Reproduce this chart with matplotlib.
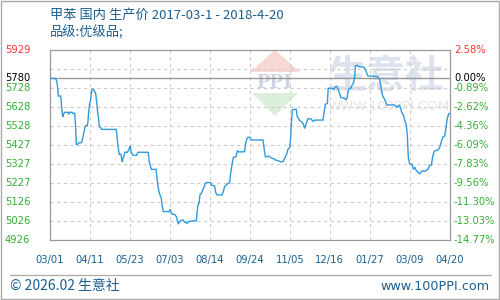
import matplotlib
matplotlib.use("Agg")
import matplotlib.pyplot as plt
from matplotlib.patches import Polygon, Rectangle
from matplotlib.lines import Line2D
import matplotlib.transforms as mtransforms
import datetime as dt

# ---------------- data ----------------
start_date = dt.date(2017, 3, 1)
tick_days = [0, 41, 83, 124, 166, 207, 249, 290, 332, 373, 415]

price_days = [
    0, 6, 7.3, 8.3, 8.6, 11.1, 11.8, 12.8, 13.5, 14.5, 15.2, 18.7, 19.4, 20.4, 22.8, 23.5, 25.6, 25.9, 26.6, 27.3,
    29.0, 30.1, 32.8, 33.5, 34.6, 36.0, 37.0, 38.7, 39.4, 40.1, 41.2, 42.2, 42.9, 43.6, 45.3, 46.3, 47.4, 48.4, 49.4, 50.5,
    51.2, 52.6, 53.6, 68.8, 69.5, 70.5, 71.2, 71.9, 73.6, 74.3, 75.0, 75.7, 76.8, 77.5, 80.2, 81.3, 82.6, 83.3, 84.0, 85.1,
    86.4, 89.9, 90.6, 91.3, 101.7, 102.4, 103.0,
    103.4, 105.1, 110.0, 111.0, 112.1, 113.1, 114.1, 115.5, 116.5, 117.6, 123.5, 124.5, 125.2, 126.6, 129.3, 131.1, 132.1, 133.1,
    134.5, 135.6, 138.0, 139.0, 140.8, 142.5, 143.5, 146.6, 150.1, 151.8, 152.5, 153.5, 154.6, 155.6, 157.0, 158.4, 159.8, 160.8,
    162.2, 166.7, 167.4, 170.8, 171.9, 173.3, 178.4, 179.8, 181.2, 182.9, 184.7, 186.4, 187.4, 188.8, 190.2, 193.0, 194.4, 195.7,
    202.0, 202.6, 204.0, 205.4, 207.5,
    208.9, 221.0, 222.0, 223.4, 225.5, 226.8, 228.9, 230.3, 232.4, 233.8, 236.5, 239.3, 241.7, 243.4, 245.2, 246.9, 248.6, 249.7,
    250.4, 251.4, 253.8, 255.5, 256.6, 258.0, 259.0, 260.7, 262.5, 264.2, 265.9, 267.6, 270.4, 271.8, 273.2, 274.6, 283.2, 284.2,
    285.6, 287.7, 288.7, 292.5, 294.6, 296.0, 297.4, 298.8, 300.2, 301.5, 305.7, 307.1, 308.4, 309.1, 310.5,
    312.0, 313.4, 314.7, 316.1, 316.8, 318.9, 320.3, 325.8, 327.5, 328.9, 329.9, 332.7, 340.3, 342.1, 343.1, 344.1, 345.2, 346.5,
    348.3, 349.3, 357.6, 359.7, 361.1, 362.5, 363.8, 364.9, 366.6, 368.0, 369.7, 370.8, 371.8, 373.2, 375.6, 377.0, 378.4, 380.1,
    381.8, 383.5, 385.3, 387.0, 388.7, 390.8, 392.2, 393.6, 395.7, 397.0, 398.4, 399.8, 402.6, 404.6, 406.0, 407.8, 409.5, 410.9,
    412.2, 413.6, 415,
]
prices = [
    5780, 5778, 5757, 5714, 5686, 5686, 5647, 5589, 5577, 5595, 5600, 5600, 5589, 5600, 5600, 5595, 5595, 5574, 5524, 5428,
    5433, 5440, 5440, 5454, 5480, 5515, 5530, 5530, 5551, 5603, 5647, 5665, 5700, 5721, 5721, 5709, 5700, 5656, 5603, 5563,
    5524, 5519, 5510, 5510, 5475, 5422, 5398, 5378, 5378, 5355, 5338, 5357, 5369, 5389, 5389, 5398, 5415, 5422, 5392, 5382,
    5373, 5373, 5383, 5389, 5389, 5366, 5338,
    5331, 5299, 5299, 5252, 5208, 5181, 5164, 5146, 5102, 5076, 5076, 5088, 5076, 5063, 5061, 5049, 5028, 5010,
    5023, 5028, 5032, 5025, 5018, 5014, 5023, 5025, 5028, 5028, 5067, 5111, 5120, 5164, 5172, 5190, 5204, 5222,
    5229, 5229, 5216, 5211, 5176, 5164, 5164, 5181, 5208, 5216, 5225, 5229, 5278, 5322, 5362, 5366, 5398, 5391,
    5392, 5427, 5457, 5468, 5468,
    5454, 5454, 5415, 5366, 5366, 5369, 5362, 5357, 5355, 5348, 5345, 5339, 5339, 5357, 5375, 5405, 5412, 5468,
    5542, 5612, 5616, 5616, 5577, 5568, 5556, 5551, 5542, 5515, 5542, 5566, 5566, 5559, 5552, 5559, 5559, 5595,
    5642, 5647, 5727, 5727, 5721, 5735, 5739, 5721, 5704, 5679, 5674, 5665, 5679, 5709, 5727,
    5727, 5744, 5753, 5785, 5845, 5848, 5841, 5838, 5823, 5802, 5792, 5792, 5788, 5771, 5744, 5709, 5686, 5674,
    5656, 5639, 5639, 5626, 5633, 5639, 5621, 5600, 5586, 5559, 5533, 5471, 5357, 5327, 5327, 5299, 5310, 5292,
    5285, 5274, 5287, 5292, 5288, 5295, 5299, 5320, 5322, 5366, 5392, 5398, 5401, 5419, 5445, 5471, 5475, 5524,
    5568, 5591, 5595,
]
assert len(price_days) == len(prices)

y_min, y_max = 4926, 5929
base_price = 5780
grid_levels = [4926, 5026.3, 5126.6, 5226.9, 5327.2, 5427.5, 5527.8, 5628.1, 5728.4, 5828.7, 5929]
left_tick_values = [5929, 5780, 5728.4, 5628.1, 5527.8, 5427.5, 5327.2, 5226.9, 5126.6, 5026.3, 4926]
left_tick_labels = ["5929", "5780", "5728", "5628", "5528", "5427", "5327", "5227", "5126", "5026", "4926"]
right_tick_labels = ["2.58%", "0.00%", "-0.89%", "-2.62%", "-4.36%", "-6.09%", "-7.83%", "-9.56%", "-11.30%", "-13.03%", "-14.77%"]

title_text = "甲苯 国内 生产价 2017-03-1 - 2018-4-20"
subtitle_text = "品级:优级品;"
footer_left = "© 2026.02 生意社"
footer_right = "www.100PPI.com"

# ---------------- styling ----------------
W, H = 500, 300
BLUE_TXT = "#1b5f8f"
RED = "#ff3333"
GREEN = "#33b033"
GRID = "#cccccc"
FRAME = "#999999"
LINE = "#3399dd"
CJK = ["Noto Sans CJK SC", "DejaVu Sans"]

fig = plt.figure(figsize=(W / 100, H / 100), dpi=100)
fig.patch.set_facecolor("white")

def fx(px):
    return px / W

def fy(py):
    return 1 - py / H

ax = fig.add_axes([fx(50), fy(240), 400 / W, 190 / H])
ax.patch.set_alpha(0)
ax.set_xlim(tick_days[0], tick_days[-1])
ax.set_ylim(y_min, y_max)

# watermark (figure-pixel positions)
wm_z = 0.2
tri_red = Polygon([[fx(250), fy(72)], [fx(300), fy(72)], [fx(275), fy(50)]], closed=True,
                  transform=fig.transFigure, facecolor="#f6cfc8", edgecolor="none", zorder=wm_z, alpha=0.8)
tri_green = Polygon([[fx(252), fy(93)], [fx(298), fy(93)], [fx(275), fy(116)]], closed=True,
                    transform=fig.transFigure, facecolor="#d3ecd3", edgecolor="none", zorder=wm_z, alpha=0.8)
ax.add_artist(tri_red)
ax.add_artist(tri_green)
tri_red.set_clip_on(False)
tri_green.set_clip_on(False)
ax.text(fx(275), fy(83), "PPI", transform=fig.transFigure, ha="center", va="center",
        fontsize=16, fontweight="bold", color="#cdd3e3", family="Liberation Serif", zorder=wm_z)
ax.text(fx(386), fy(77), "生意社", transform=fig.transFigure, ha="center", va="center",
        fontsize=28, fontweight="bold", color="#dde2ec", family=CJK, zorder=wm_z)
ax.text(fx(389), fy(107), "WWW.100PPI.COM", transform=fig.transFigure, ha="center", va="center",
        fontsize=9.5, color="#e6e6e6", family="DejaVu Sans", zorder=wm_z)

# grid
dash = (0, (3, 3))
for lv in grid_levels[1:-1]:
    ax.axhline(lv, color=GRID, lw=0.8, linestyle=dash, zorder=1)
for d in tick_days[1:-1]:
    ax.axvline(d, color=GRID, lw=0.8, linestyle=dash, zorder=1)
ax.axhline(base_price, color=FRAME, lw=1.0, zorder=1.5)

# data line
ax.plot(price_days, prices, color=LINE, lw=1.0, zorder=3, solid_joinstyle="miter")

# spines / ticks
for s in ax.spines.values():
    s.set_color(FRAME)
    s.set_linewidth(0.9)
ax.set_xticks(tick_days)
ax.set_xticklabels([(start_date + dt.timedelta(days=d)).strftime("%m/%d") for d in tick_days],
                   fontsize=7.2, color=BLUE_TXT, family="DejaVu Sans")
ax.tick_params(axis="x", length=0, pad=11)
ax.set_yticks([])

# y labels (left and right)
trans_l = mtransforms.blended_transform_factory(fig.transFigure, ax.transData)
for i, (v, lab, rl) in enumerate(zip(left_tick_values, left_tick_labels, right_tick_labels)):
    col = RED if i == 0 else ("black" if i == 1 else GREEN)
    ax.text(fx(5), v, lab, transform=trans_l, ha="left", va="center", fontsize=7.2,
            color=col, family="DejaVu Sans", clip_on=False)
    ax.text(fx(454), v, rl, transform=trans_l, ha="left", va="center", fontsize=7.2,
            color=col, family="DejaVu Sans", clip_on=False)

# titles
fig.text(fx(50), fy(15), title_text, ha="left", va="center", fontsize=9.5, color=BLUE_TXT, family=CJK)
fig.text(fx(50), fy(33), subtitle_text, ha="left", va="center", fontsize=9.5, color=BLUE_TXT, family=CJK)

# footer
fig.add_artist(Line2D([fx(10), fx(491)], [fy(275), fy(275)], transform=fig.transFigure, color="#aaaaaa", lw=0.9))
fig.text(fx(10), fy(286), footer_left, ha="left", va="center", fontsize=10, color=BLUE_TXT, family=CJK)
fig.text(fx(490), fy(286), footer_right, ha="right", va="center", fontsize=9.2, color=BLUE_TXT, family="DejaVu Sans")

# outer border
fig.add_artist(Rectangle((0.001, 0.002), 0.997, 0.996, transform=fig.transFigure, fill=False,
                         edgecolor="#aaaaaa", lw=1.0))

fig.savefig("out.png", dpi=100)
